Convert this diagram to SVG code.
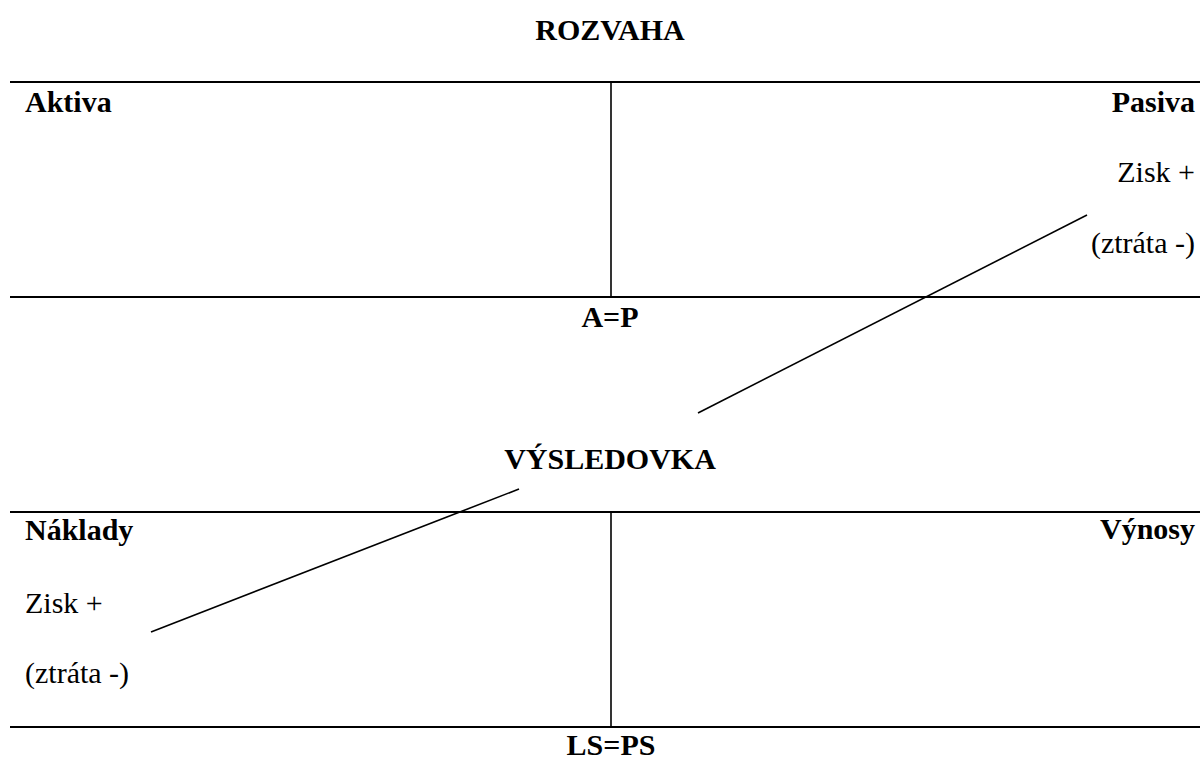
<svg xmlns="http://www.w3.org/2000/svg" width="1200" height="759" viewBox="0 0 1200 759">
  <style>
    text { font-family: 'Liberation Serif', 'Tinos', 'Times New Roman', Times, 'DejaVu Serif', serif; font-size: 30px; fill: #000; }
    .b { font-weight: bold; }
    .c { text-anchor: middle; }
    .r { text-anchor: end; }
    .rule { stroke: #000; stroke-width: 2.2; fill: none; }
    .div { stroke: #000; stroke-width: 1.6; fill: none; }
    .link { stroke: #000; stroke-width: 1.6; fill: none; }
  </style>
  <rect width="1200" height="759" fill="#fff"/>

  <!-- Balance sheet T-account -->
  <g id="rozvaha" font-family="Liberation Serif, serif">
    <text class="b c" x="610" y="40">ROZVAHA</text>
    <line class="rule" x1="10" y1="82" x2="1200" y2="82"/>
    <line class="div" x1="611" y1="82" x2="611" y2="297"/>
    <line class="rule" x1="10" y1="297" x2="1200" y2="297"/>
    <text class="b" x="25" y="112">Aktiva</text>
    <text class="b r" x="1195" y="112">Pasiva</text>
    <text class="r" x="1195" y="182">Zisk +</text>
    <text class="r" x="1195" y="253">(ztráta -)</text>
    <text class="b c" x="610" y="327">A=P</text>
  </g>

  <!-- Income statement T-account -->
  <g id="vysledovka" font-family="Liberation Serif, serif">
    <text class="b c" x="610" y="469">VÝSLEDOVKA</text>
    <line class="rule" x1="10" y1="512" x2="1200" y2="512"/>
    <line class="div" x1="611" y1="512" x2="611" y2="727"/>
    <line class="rule" x1="10" y1="727" x2="1200" y2="727"/>
    <text class="b" x="25" y="540">Náklady</text>
    <text class="b r" x="1195" y="539">Výnosy</text>
    <text x="25" y="613">Zisk +</text>
    <text x="25" y="683">(ztráta -)</text>
    <text class="b c" x="611" y="755">LS=PS</text>
  </g>

  <!-- Links between the profit entries -->
  <g id="connectors">
    <line class="link" x1="1087" y1="215" x2="698" y2="413"/>
    <line class="link" x1="519" y1="489" x2="151" y2="632"/>
  </g>
</svg>
